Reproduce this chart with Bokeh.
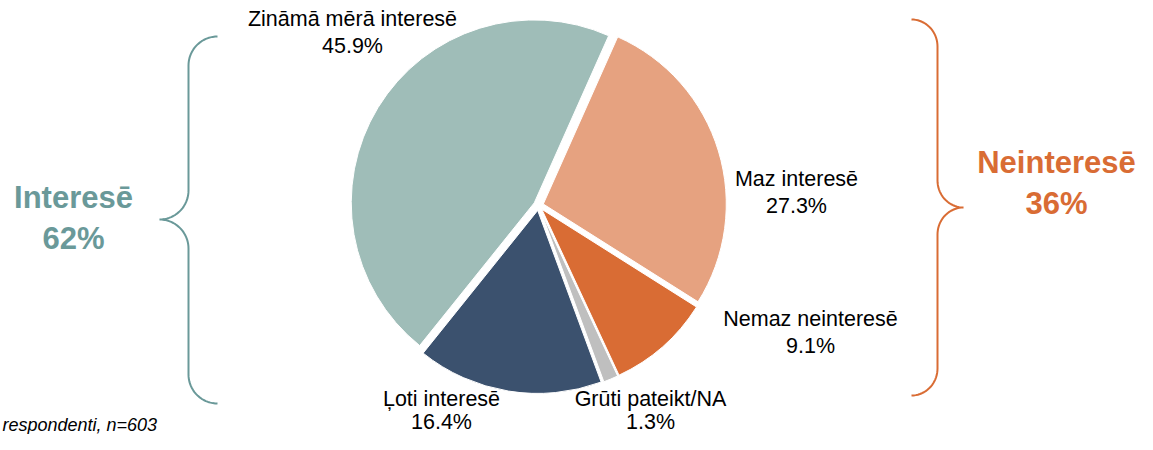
import numpy as np
from bokeh.plotting import figure
from bokeh.models import Range1d, ColumnDataSource
from bokeh.core.properties import value
from bokeh.embed import file_html
from bokeh.resources import INLINE

# ---- data ----
categories = ["Maz interesē", "Nemaz neinteresē", "Grūti pateikt/NA", "Ļoti interesē", "Zināmā mērā interesē"]
shares = [27.3, 9.1, 1.3, 16.4, 45.9]
colors = ["#E6A280", "#D96C34", "#BFBFBF", "#3B516E", "#9FBDB8"]
group_labels = ["Interesē", "Neinteresē"]
group_values = [62, 36]
group_colors = ["#6A9999", "#D96C34"]
footnote = "respondenti, n=603"

W, H = 1137, 434
def Y(y):  # picture pixel -> data y
    return H - y

p = figure(width=W, height=H, x_range=Range1d(0, W), y_range=Range1d(0, H),
           output_backend="svg", toolbar_location=None, min_border=0)
p.axis.visible = False
p.grid.visible = False
p.outline_line_color = None
p.background_fill_color = "white"

# ---- pie ----
cx, cy, r, explode = 538, 205, 183, 5
start_deg = 24.0
vals = np.array(shares, dtype=float)
cum = np.concatenate([[0], np.cumsum(vals)]) / vals.sum() * 360.0
ts = start_deg + cum[:-1]
te = start_deg + cum[1:]
tm = (ts + te) / 2
xs = cx + explode * np.sin(np.radians(tm))
ys = Y(cy) + explode * np.cos(np.radians(tm))
src = ColumnDataSource(dict(x=xs, y=ys, s=np.radians(90 - ts), e=np.radians(90 - te), c=colors))
p.wedge(x="x", y="y", radius=r, start_angle="s", end_angle="e", direction="clock",
        fill_color="c", line_color="white", line_width=1, source=src)

# ---- slice labels ----
lab_pos = {"Maz interesē": (796, 178, 27), "Nemaz neinteresē": (810, 318, 27),
           "Grūti pateikt/NA": (650, 398, 23), "Ļoti interesē": (441, 398, 23),
           "Zināmā mērā interesē": (352, 18, 27)}
lx = [lab_pos[c][0] for c in categories]
ly1 = [Y(lab_pos[c][1]) for c in categories]
ly2 = [Y(lab_pos[c][1] + lab_pos[c][2]) for c in categories]
pct = [f"{v:.1f}%" for v in shares]
font = value("Liberation Sans")
p.text(x=lx, y=ly1, text=categories, text_font=font, text_font_size="21.5px",
       text_align="center", text_baseline="middle", text_color="#000000")
p.text(x=lx, y=ly2, text=pct, text_font=font, text_font_size="21.5px",
       text_align="center", text_baseline="middle", text_color="#000000")

# ---- group labels ----
gx = [73, 1056]
gy1 = [Y(197), Y(162)]
gy2 = [Y(238), Y(203)]
p.text(x=gx, y=gy1, text=group_labels, text_font=font, text_font_size="31px", text_font_style="bold",
       text_align="center", text_baseline="middle", text_color=group_colors)
p.text(x=gx, y=gy2, text=[f"{v}%" for v in group_values], text_font=font, text_font_size="31px",
       text_font_style="bold", text_align="center", text_baseline="middle", text_color=group_colors)

# ---- braces ----
def brace(x_tip, x_bar, x_pt, y_top, y_mid, y_bot, rad):
    pts_x, pts_y = [], []
    t = np.linspace(0, np.pi / 2, 20)
    ax, ay = x_tip, y_top + rad
    pts_x += list(ax - (x_tip - x_bar) * np.sin(t)); pts_y += list(ay - rad * np.cos(t))
    ax, ay = x_pt, y_mid - rad
    pts_x += list(ax + (x_bar - x_pt) * np.cos(t)); pts_y += list(ay + rad * np.sin(t))
    ax, ay = x_pt, y_mid + rad
    pts_x += list(ax + (x_bar - x_pt) * np.sin(t)); pts_y += list(ay - rad * np.cos(t))
    ax, ay = x_tip, y_bot - rad
    pts_x += list(ax - (x_tip - x_bar) * np.cos(t)); pts_y += list(ay + rad * np.sin(t))
    return pts_x, [Y(v) for v in pts_y]

bx, by = brace(217, 188, 159, 36, 219, 403, 29)
p.line(bx, by, line_color=group_colors[0], line_width=2)
bx, by = brace(911, 937, 963, 19, 207, 395, 27)
p.line(bx, by, line_color=group_colors[1], line_width=2)

# ---- footnote ----
p.text(x=[2], y=[Y(424)], text=[footnote], text_font=font, text_font_size="18px",
       text_font_style="italic", text_align="left", text_baseline="middle", text_color="#000000")

open("out.html", "w").write(file_html(p, INLINE))
